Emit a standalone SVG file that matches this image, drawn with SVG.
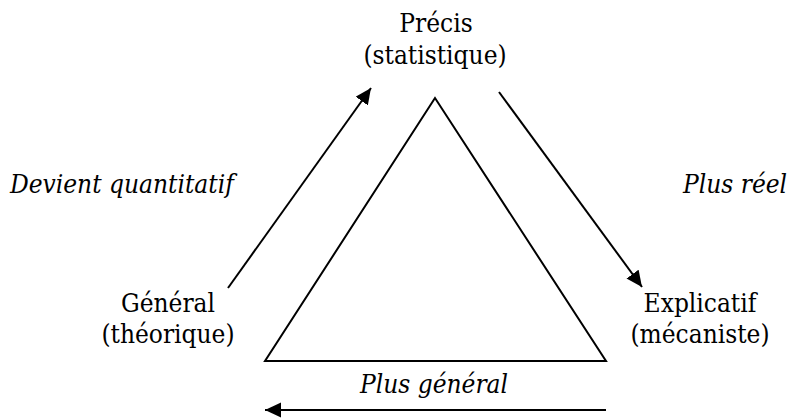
<svg xmlns="http://www.w3.org/2000/svg" width="792" height="418" viewBox="0 0 792 418">
<style>
.t{font-family:'DejaVu Serif Condensed','DejaVu Serif',serif;font-stretch:condensed;font-size:26px;fill:#000}
.c{text-anchor:middle}
.i{font-style:italic}
.ln{stroke:#000;stroke-width:2;fill:none}
</style>
<defs>
<marker id="ah" markerUnits="userSpaceOnUse" markerWidth="18" markerHeight="16" refX="16" refY="7.5" orient="auto">
<path d="M0,0 L16,7.5 L0,15 Z" fill="#000"/>
</marker>
</defs>
<rect width="792" height="418" fill="#fff"/>
<g id="triangle">
<polygon class="ln" points="435,98 265,361 606,361"/>
</g>
<g id="connectors">
<line class="ln" x1="228" y1="288" x2="371" y2="88" marker-end="url(#ah)"/>
<line class="ln" x1="499" y1="92" x2="642" y2="287" marker-end="url(#ah)"/>
<line class="ln" x1="606" y1="410" x2="265" y2="410" marker-end="url(#ah)"/>
</g>
<g id="node-precis">
<text class="t c" x="436" y="32">Précis</text>
<text class="t c" x="435" y="64">(statistique)</text>
</g>
<g id="node-general">
<text class="t c" x="168" y="312">Général</text>
<text class="t c" x="168" y="343">(théorique)</text>
</g>
<g id="node-explicatif">
<text class="t c" x="700" y="312">Explicatif</text>
<text class="t c" x="700" y="343">(mécaniste)</text>
</g>
<g id="labels">
<text class="t i" x="10" y="193">Devient quantitatif</text>
<text class="t i" x="683" y="193">Plus réel</text>
<text class="t i c" x="434" y="393">Plus général</text>
</g>
</svg>
